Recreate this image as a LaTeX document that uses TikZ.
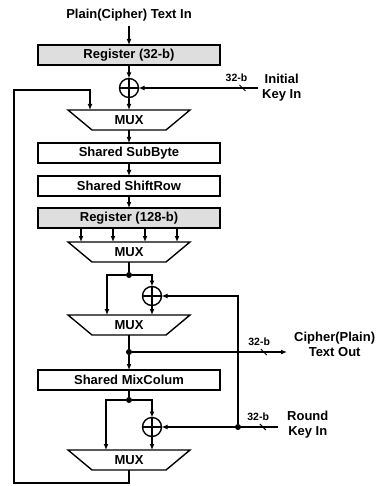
\documentclass[tikz,border=0pt]{standalone}
\usepackage{fontspec}
\setmainfont{Liberation Sans}
\usetikzlibrary{positioning,arrows.meta,shapes.misc}

\begin{document}
\begin{tikzpicture}[
    x=1pt, y=1pt,
    node distance=13pt,
    font=\fontsize{13}{15}\selectfont\bfseries,
    block/.style={draw, line width=1.4pt, outer sep=0pt, minimum width=182pt, minimum height=20pt, inner sep=0pt},
    reg/.style={block, fill=black!13},
    mux/.style={outer sep=0pt, minimum width=122pt, minimum height=20pt, inner sep=0pt},
    xor/.style={circle, draw, line width=1.4pt, outer sep=0pt, minimum size=19pt, inner sep=0pt,
        path picture={\draw[line width=1.4pt] (path picture bounding box.north) -- (path picture bounding box.south)
            (path picture bounding box.west) -- (path picture bounding box.east);}},
    dot/.style={circle, fill, minimum size=6pt, inner sep=0pt},
    tick/.style={strike out, draw, rotate=90, minimum size=5pt, inner sep=0pt, line width=1pt},
    bw/.style={font=\fontsize{10.5}{12}\selectfont\bfseries, inner sep=0pt},
    txt/.style={align=center, inner sep=0pt},
    line/.style={-{Latex[length=6pt,width=5pt]}, line width=1.3pt},
    wire/.style={line width=1.3pt}
]
\useasboundingbox (0,0) rectangle (379,-486);

% data path
\node[reg] (reg32) at (129,-55) {Register (32-b)};
\node[txt, above=24pt of reg32] (title) {Plain(Cipher) Text In};
\node[xor, below=13.5pt of reg32] (xor1) {};
\node[mux, below=12.5pt of xor1] (mux1) {MUX};
\node[block, below=of mux1] (subbyte) {Shared SubByte};
\node[block, below=of subbyte] (shiftrow) {Shared ShiftRow};
\node[reg, below=12pt of shiftrow] (reg128) {Register (128-b)};
\node[mux, below=14pt of reg128] (mux2) {MUX};
\node[mux, below=53pt of mux2] (mux3) {MUX};
\node[block, below=35pt of mux3] (mixcol) {Shared MixColum};
\node[mux, below=60pt of mixcol] (mux4) {MUX};

\foreach \m in {mux1,mux2,mux3,mux4}
  \draw[line width=1.4pt] (\m.north west) -- (\m.north east) -- ([xshift=-24pt]\m.south east) -- ([xshift=24pt]\m.south west) -- cycle;

% branches and keys
\node[dot] (dot1) at ([yshift=-13pt]mux2.south) {};
\node[xor] (xor2) at ([xshift=23pt,yshift=-34pt]mux2.south) {};
\node[dot] (dot2) at ([yshift=-17pt]mux3.south) {};
\node[dot] (dot3) at ([yshift=-10pt]mixcol.south) {};
\node[xor] (xor3) at ([xshift=23pt,yshift=-37pt]mixcol.south) {};
\node[dot] (rkdot) at ([xshift=86pt]xor3.center) {};
\coordinate (rkin) at ([xshift=126pt]xor3.center);
\coordinate (ikey) at ([xshift=129pt]xor1.center);
\coordinate (cout) at ([xshift=158pt]dot2.center);
\coordinate (fbin) at ([xshift=-39pt]mux1.north);
\coordinate (fbtop) at (14,-90);
\coordinate (fbbot) at (14,-483);

\node[txt, right=4pt of ikey] (ikeytxt) {Initial\\Key In};
\node[txt, right=7pt of cout, yshift=7.5pt] (couttxt) {Cipher(Plain)\\Text Out};
\node[txt, right=9pt of rkin, yshift=2pt] (rktxt) {Round\\Key In};

\draw[line, shorten <=5pt] (title) -- (reg32);
\draw[line] (reg32) -- (xor1);
\draw[line] (xor1) -- (mux1);
\draw[line] (ikey) -- node[tick, pos=0.13] (t1) {} node[bw, pos=0.18, above=6pt] (w1) {32-b} (xor1);
\draw[line] (mux1) -- (subbyte);
\draw[line] (subbyte) -- (shiftrow);
\draw[line] (shiftrow) -- (reg128);
\foreach \dx in {-48,-16,16,48}
  \draw[line] ([xshift=\dx pt]reg128.south) -- ([xshift=\dx pt]mux2.north);
\draw[wire] (mux2) -- (dot1);
\draw[line] (dot1) -| ([xshift=-22pt]mux3.north);
\draw[line] (dot1) -| (xor2);
\draw[line] (xor2) -- (xor2 |- mux3.north);
\draw[wire] (mux3) -- (dot2);
\draw[line] (dot2) -- (mixcol);
\draw[line] (dot2) -- node[tick, pos=0.85] (t2) {} node[bw, pos=0.82, above=6pt] (w2) {32-b} (cout);
\draw[wire] (mixcol) -- (dot3);
\draw[line] (dot3) -| ([xshift=-23pt]mux4.north);
\draw[line] (dot3) -| (xor3);
\draw[line] (xor3) -- (xor3 |- mux4.north);
\draw[line] (rkin) -- node[tick, pos=0.13] (t3) {} node[bw, pos=0.17, above=6pt] (w3) {32-b} (xor3);
\draw[line] (rkdot) |- (xor2);
\draw[line] (mux4.south) |- (fbbot) -- (fbtop) -| (fbin);
\end{tikzpicture}
\end{document}
